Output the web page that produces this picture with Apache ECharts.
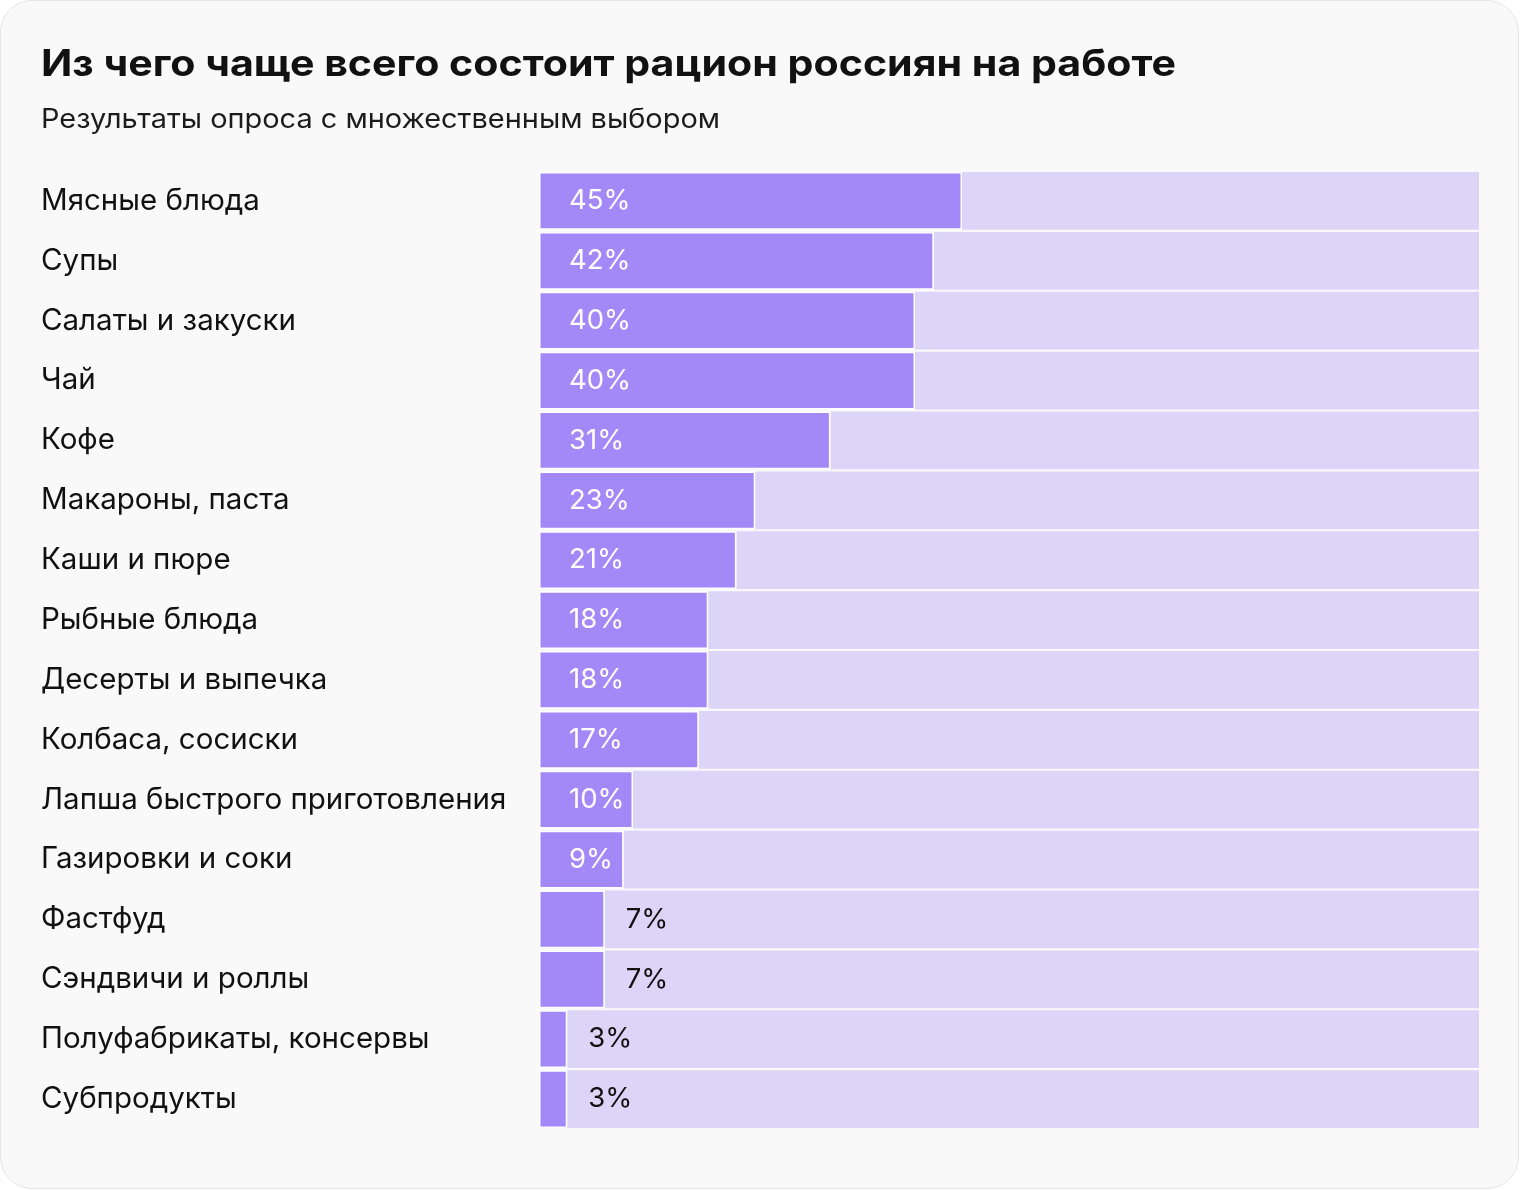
<!DOCTYPE html>
<html><head><meta charset="utf-8">
<script src="https://cdn.jsdelivr.net/npm/echarts@6/dist/echarts.min.js"></script>
<style>
html,body{margin:0;padding:0;background:#ffffff;}
#card{position:absolute;left:0;top:0;width:1517px;height:1187px;border:1.5px solid #e6e6e6;border-radius:32px;background:#f9f9f9;overflow:hidden;}
#chart{position:absolute;left:0;top:0;width:1520px;height:1190px;}
</style></head>
<body>
<div id="card"></div>
<div id="chart"></div>
<script>
const titleText = 'Из чего чаще всего состоит рацион россиян на работе';
const subtitleText = 'Результаты опроса с множественным выбором';
const categories = ['Мясные блюда','Супы','Салаты и закуски','Чай','Кофе','Макароны, паста','Каши и пюре','Рыбные блюда','Десерты и выпечка','Колбаса, сосиски','Лапша быстрого приготовления','Газировки и соки','Фастфуд','Сэндвичи и роллы','Полуфабрикаты, консервы','Субпродукты'];
const values = [45,42,40,40,31,23,21,18,18,17,10,9,7,7,3,3];
const total = 100;

function fitScale(text, font, target){
  const c = document.createElement('canvas').getContext('2d');
  c.font = font;
  return target / c.measureText(text).width;
}
const titleFont = 'bold 37px Inter';
const subFont = '27px Inter';
const titleScale = fitScale(titleText, titleFont, 1135);
const subScale = fitScale(subtitleText, subFont, 679);

const chart = echarts.init(document.getElementById('chart'), null, {renderer:'canvas'});
const LABEL_FONT = 'Inter';
chart.setOption({
  backgroundColor:'transparent',
  animation:false,
  graphic:[
    {type:'text', x:41, y:65, scaleX:titleScale, originX:0,
     style:{text:titleText, font:titleFont, fill:'#111111', verticalAlign:'middle'}},
    {type:'text', x:41, y:120, scaleX:subScale, originX:0,
     style:{text:subtitleText, font:subFont, fill:'#1c1c1c', verticalAlign:'middle'}}
  ],
  grid:{left:539, right:41, top:171, bottom:61, containLabel:false},
  xAxis:{type:'value', min:0, max:total, show:false},
  yAxis:{type:'category', data:categories, inverse:true,
    axisLine:{show:false}, axisTick:{show:false}, splitLine:{show:false},
    axisLabel:{align:'left', margin:498, fontFamily:LABEL_FONT, fontSize:29.5, color:'#111111'}},
  series:[
    {type:'bar', stack:'a', barCategoryGap:'3.4%', z:3, data:values.map(v=>({
        value:v,
        label: v>=9 ? {show:true, position:'insideLeft', distance:30, color:'#ffffff'}
                    : {show:true, position:'right', distance:21, color:'#111111'}
      })),
     itemStyle:{color:'#a389f7', borderColor:'#ffffff', borderWidth:1.5},
     label:{show:true, formatter:'{c}%', fontFamily:LABEL_FONT, fontSize:27.5}
    },
    {type:'bar', stack:'a', barCategoryGap:'3.4%', z:2, data:values.map(v=>total-v),
     itemStyle:{color:'#ddd5f8'},
     label:{show:false}}
  ]
});
</script>
</body></html>
